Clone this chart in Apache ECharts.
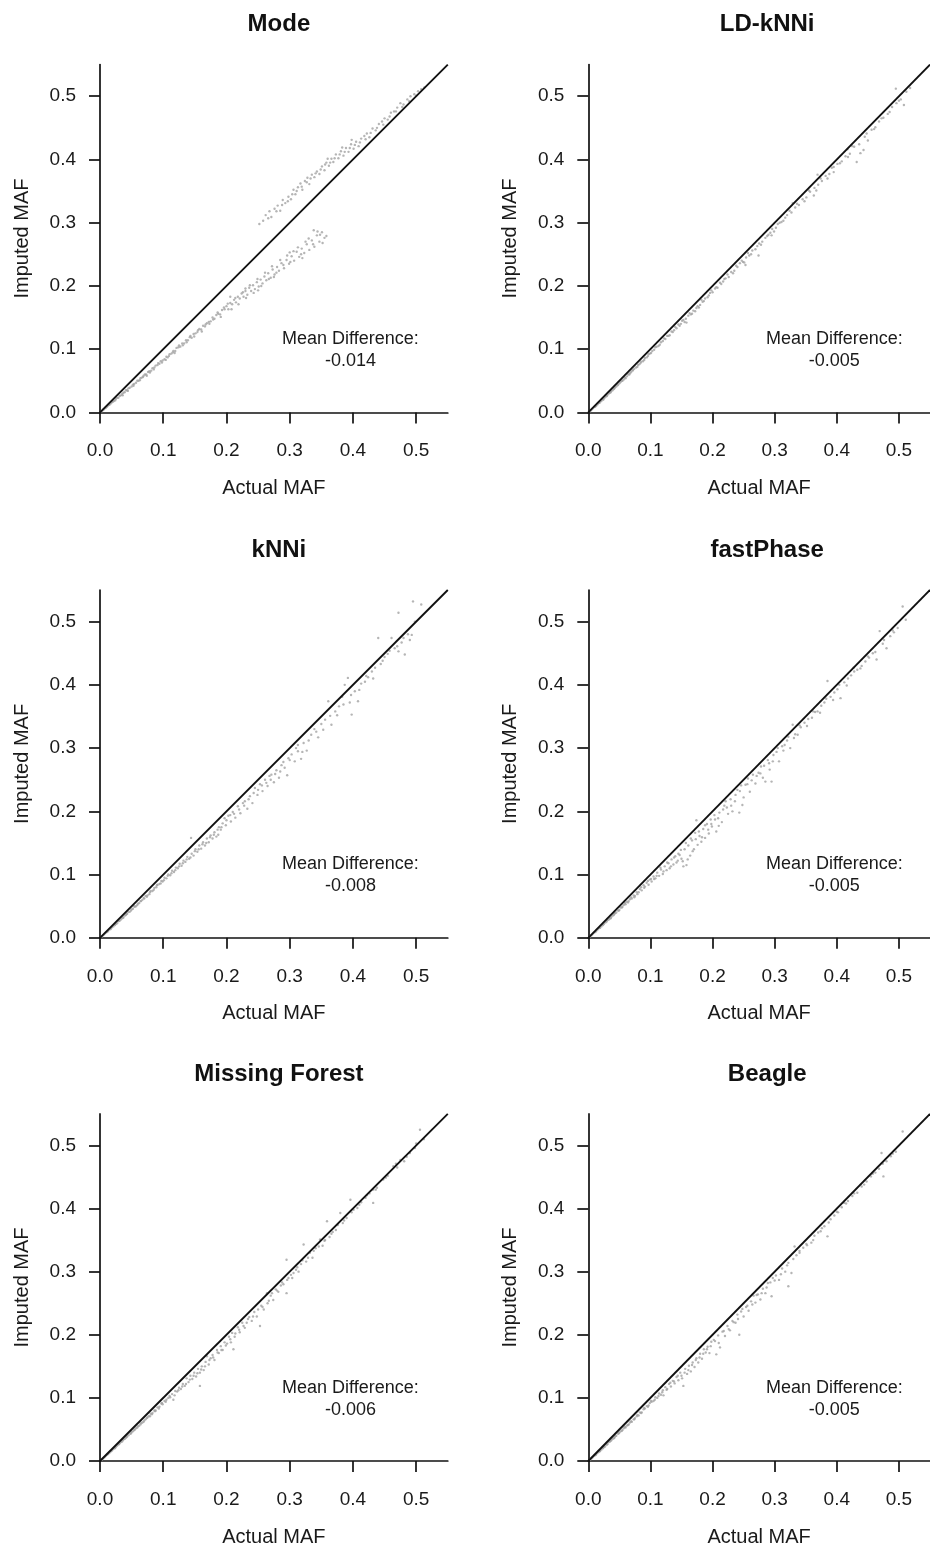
<!DOCTYPE html>
<html>
<head>
<meta charset="utf-8">
<script src="https://cdn.jsdelivr.net/npm/echarts@6/dist/echarts.min.js"></script>
<style>
html,body{margin:0;padding:0;background:#fff;}
#chart{width:930px;height:1548px;}
</style>
</head>
<body>
<div id="chart"></div>
<script>
// ---------------- DATA ----------------
const panelTitles = ['Mode', 'LD-kNNi', 'kNNi', 'fastPhase', 'Missing Forest', 'Beagle'];
const meanDifferences = ['-0.014', '-0.005', '-0.008', '-0.005', '-0.006', '-0.005'];
const tickValues = [0, 0.1, 0.2, 0.3, 0.4, 0.5];
const tickLabels = ['0.0', '0.1', '0.2', '0.3', '0.4', '0.5'];
const xAxisTitle = 'Actual MAF';
const yAxisTitle = 'Imputed MAF';
const identityLine = [[0, 0], [0.55, 0.55]];

// [actual MAF, imputed MAF]
const modePoints = [
[0.003,0.002],[0.005,0.004],[0.006,0.005],[0.008,0.007],[0.009,0.007],[0.011,0.009],[0.012,0.010],[0.014,0.012],[0.015,0.012],[0.017,0.014],
[0.019,0.016],[0.020,0.017],[0.022,0.018],[0.024,0.019],[0.025,0.021],[0.027,0.023],[0.029,0.023],[0.031,0.026],[0.033,0.027],[0.035,0.029],
[0.037,0.031],[0.039,0.032],[0.041,0.035],[0.043,0.035],[0.045,0.038],[0.047,0.039],[0.050,0.041],[0.052,0.044],[0.054,0.045],[0.057,0.047],
[0.059,0.050],[0.061,0.050],[0.064,0.054],[0.066,0.055],[0.068,0.056],[0.071,0.060],[0.073,0.060],[0.076,0.064],[0.078,0.065],[0.081,0.066],
[0.083,0.070],[0.086,0.071],[0.088,0.074],[0.091,0.075],[0.094,0.077],[0.096,0.081],[0.099,0.082],
[0.102,0.084],[0.105,0.088],[0.107,0.087],[0.110,0.092],[0.113,0.093],[0.116,0.097],[0.119,0.097],[0.121,0.102],[0.124,0.103],[0.127,0.104],
[0.130,0.109],[0.133,0.109],[0.136,0.114],[0.139,0.114],[0.142,0.119],[0.145,0.118],[0.148,0.124],[0.151,0.125],[0.154,0.127],[0.157,0.132],
[0.160,0.131],[0.163,0.137],[0.166,0.136],[0.169,0.141],[0.172,0.143],[0.175,0.144],[0.178,0.150],[0.181,0.148],[0.184,0.154],[0.187,0.156],
[0.190,0.155],[0.193,0.162],[0.197,0.163],
[0.200,0.168],[0.203,0.163],[0.206,0.173],[0.206,0.183],[0.209,0.171],[0.212,0.178],[0.215,0.174],[0.218,0.183],[0.221,0.180],[0.224,0.188],
[0.227,0.183],[0.230,0.192],[0.233,0.186],[0.236,0.197],[0.239,0.192],[0.242,0.201],[0.245,0.195],[0.248,0.206],[0.251,0.199],[0.254,0.210],
[0.257,0.204],[0.260,0.215],[0.263,0.209],[0.266,0.220],[0.270,0.213],[0.273,0.226],[0.276,0.218],[0.280,0.230],[0.283,0.224],[0.287,0.236],
[0.291,0.228],[0.295,0.241],[0.299,0.235],[0.303,0.247],[0.307,0.240],[0.311,0.254],[0.315,0.246],[0.319,0.259],[0.323,0.252],[0.327,0.266],
[0.331,0.257],[0.335,0.272],[0.338,0.288],[0.339,0.262],[0.343,0.280],[0.347,0.270],[0.348,0.281],[0.351,0.285],[0.355,0.276],[0.358,0.279],
[0.036,0.027],[0.044,0.034],[0.053,0.042],[0.063,0.051],[0.069,0.058],[0.074,0.058],[0.079,0.063],[0.085,0.068],[0.092,0.078],[0.098,0.079],
[0.104,0.083],[0.109,0.089],[0.115,0.095],[0.118,0.094],[0.125,0.106],[0.131,0.106],[0.137,0.111],[0.143,0.121],[0.149,0.120],[0.155,0.130],
[0.161,0.128],[0.167,0.139],[0.173,0.140],[0.179,0.147],[0.186,0.158],[0.191,0.151],[0.196,0.166],[0.202,0.172],[0.208,0.163],[0.214,0.181],
[0.219,0.171],[0.226,0.190],[0.231,0.181],[0.237,0.201],[0.243,0.189],[0.249,0.211],[0.255,0.200],[0.261,0.221],[0.267,0.211],[0.272,0.231],
[0.279,0.221],[0.285,0.241],[0.290,0.233],[0.296,0.248],[0.301,0.238],[0.306,0.255],[0.313,0.261],[0.318,0.250],[0.325,0.270],[0.330,0.275],
[0.337,0.266],[0.344,0.286],[0.352,0.268],[0.230,0.196],[0.250,0.193],[0.275,0.214],[0.300,0.253],[0.320,0.244],
[0.252,0.298],[0.262,0.312],[0.268,0.318],[0.271,0.309],[0.276,0.322],[0.281,0.327],[0.285,0.319],[0.289,0.336],[0.293,0.331],[0.298,0.341],
[0.302,0.337],[0.306,0.352],[0.309,0.345],[0.313,0.356],[0.317,0.362],[0.320,0.352],[0.324,0.366],[0.328,0.371],[0.331,0.361],[0.335,0.376],
[0.339,0.372],[0.343,0.381],[0.347,0.377],[0.351,0.389],[0.355,0.383],[0.358,0.395],[0.362,0.390],[0.366,0.401],[0.369,0.396],[0.373,0.408],
[0.377,0.402],[0.381,0.413],[0.385,0.406],[0.389,0.418],[0.393,0.412],[0.397,0.424],[0.401,0.417],[0.405,0.428],[0.409,0.421],[0.413,0.433],
[0.418,0.437],[0.422,0.441],[0.426,0.435],[0.431,0.449],[0.436,0.446],[0.441,0.456],[0.446,0.460],[0.450,0.465],[0.455,0.463],[0.460,0.474],
[0.465,0.476],[0.470,0.482],[0.475,0.489],[0.480,0.487],[0.486,0.495],[0.491,0.500],[0.497,0.503],[0.503,0.508],[0.508,0.511],[0.513,0.514],
[0.258,0.303],[0.266,0.307],[0.279,0.318],[0.288,0.328],[0.297,0.334],[0.304,0.345],[0.311,0.350],[0.319,0.357],[0.327,0.364],[0.333,0.370],
[0.341,0.378],[0.349,0.384],[0.356,0.392],[0.364,0.395],[0.371,0.402],[0.379,0.408],[0.387,0.412],[0.395,0.418],[0.403,0.423],[0.411,0.427],
[0.420,0.432],[0.428,0.442],[0.438,0.450],[0.448,0.455],[0.458,0.468],[0.468,0.476],[0.478,0.483],[0.489,0.492],[0.500,0.501],[0.383,0.419],
[0.398,0.431],[0.360,0.401]
];

const ldknniPoints = [
[0.003,0.002],[0.005,0.004],[0.007,0.006],[0.009,0.008],[0.011,0.009],[0.013,0.011],[0.015,0.013],[0.017,0.015],[0.019,0.017],[0.021,0.018],
[0.023,0.021],[0.025,0.022],[0.027,0.024],[0.029,0.026],[0.031,0.028],[0.033,0.030],[0.035,0.031],[0.037,0.034],[0.039,0.035],[0.041,0.037],
[0.043,0.040],[0.045,0.041],[0.047,0.043],[0.050,0.046],[0.052,0.048],[0.054,0.050],[0.057,0.052],[0.059,0.055],[0.062,0.057],[0.064,0.060],
[0.067,0.062],[0.069,0.064],[0.072,0.067],[0.074,0.069],[0.077,0.071],[0.080,0.075],[0.082,0.076],[0.085,0.080],[0.088,0.081],[0.091,0.086],
[0.094,0.087],[0.097,0.092],[0.099,0.093],
[0.103,0.097],[0.106,0.099],[0.110,0.104],[0.113,0.105],[0.117,0.111],[0.120,0.113],[0.124,0.116],[0.127,0.121],[0.131,0.122],[0.134,0.128],
[0.138,0.130],[0.142,0.133],[0.145,0.139],[0.149,0.140],[0.153,0.146],[0.157,0.148],[0.158,0.142],[0.161,0.153],[0.165,0.155],[0.169,0.161],
[0.172,0.160],[0.176,0.168],[0.180,0.170],[0.184,0.175],[0.188,0.180],[0.192,0.182],[0.196,0.189],[0.200,0.190],
[0.204,0.196],[0.208,0.197],[0.212,0.205],[0.217,0.207],[0.221,0.212],[0.226,0.214],[0.230,0.222],[0.235,0.224],[0.240,0.230],[0.244,0.236],
[0.249,0.238],[0.253,0.233],[0.254,0.245],[0.259,0.248],[0.264,0.256],[0.269,0.258],[0.274,0.248],[0.275,0.267],[0.280,0.270],[0.285,0.276],
[0.290,0.281],[0.295,0.280],[0.296,0.290],[0.302,0.292],[0.308,0.300],[0.314,0.303],[0.320,0.312],[0.327,0.316],[0.329,0.331],[0.333,0.324],
[0.339,0.328],[0.345,0.337],[0.351,0.340],[0.357,0.349],[0.363,0.343],[0.364,0.355],[0.369,0.376],[0.370,0.360],[0.376,0.366],[0.382,0.374],
[0.388,0.377],[0.395,0.380],[0.395,0.388],[0.401,0.393],[0.408,0.397],[0.414,0.405],[0.417,0.416],[0.421,0.409],[0.428,0.420],[0.432,0.396],
[0.438,0.410],[0.443,0.415],[0.445,0.436],[0.450,0.430],[0.456,0.447],[0.462,0.451],[0.468,0.460],[0.475,0.466],[0.482,0.472],[0.489,0.483],
[0.495,0.512],[0.496,0.489],[0.503,0.495],[0.508,0.486],[0.512,0.507],[0.518,0.513],
[0.012,0.010],[0.018,0.015],[0.024,0.020],[0.030,0.026],[0.036,0.032],[0.042,0.038],[0.048,0.044],[0.055,0.050],[0.060,0.054],[0.066,0.060],
[0.071,0.066],[0.079,0.072],[0.084,0.078],[0.090,0.083],[0.096,0.089],[0.101,0.094],[0.108,0.103],[0.115,0.107],[0.122,0.117],[0.129,0.121],
[0.136,0.127],[0.140,0.135],[0.147,0.137],[0.151,0.145],[0.155,0.143],[0.163,0.157],[0.167,0.156],[0.174,0.165],[0.178,0.166],[0.182,0.178],
[0.186,0.176],[0.194,0.185],[0.198,0.193],[0.206,0.198],[0.214,0.203],[0.219,0.211],[0.224,0.218],[0.233,0.220],[0.238,0.232],[0.247,0.240],
[0.251,0.237],[0.257,0.252],[0.262,0.250],[0.272,0.263],[0.278,0.265],[0.288,0.279],[0.293,0.284],[0.299,0.286],[0.305,0.298],[0.311,0.301],
[0.317,0.308],[0.324,0.319],[0.336,0.330],[0.348,0.334],[0.355,0.351],[0.367,0.351],[0.374,0.370],[0.385,0.370],[0.392,0.387],[0.405,0.394],
[0.418,0.404],[0.425,0.421],[0.436,0.424],[0.448,0.441],[0.460,0.448],[0.472,0.465],[0.485,0.475],[0.500,0.493]
];

const knniPoints = [
[0.003,0.002],[0.005,0.004],[0.007,0.006],[0.009,0.008],[0.011,0.009],[0.013,0.011],[0.015,0.013],[0.017,0.014],[0.019,0.017],[0.021,0.018],
[0.023,0.020],[0.025,0.022],[0.027,0.023],[0.029,0.026],[0.031,0.027],[0.033,0.029],[0.035,0.031],[0.037,0.032],[0.039,0.035],[0.041,0.036],
[0.043,0.038],[0.045,0.041],[0.047,0.041],[0.050,0.045],[0.052,0.046],[0.055,0.049],[0.057,0.050],[0.060,0.054],[0.062,0.055],[0.065,0.058],
[0.067,0.060],[0.070,0.062],[0.072,0.066],[0.075,0.067],[0.078,0.069],[0.080,0.074],[0.083,0.074],[0.086,0.079],[0.089,0.080],[0.091,0.084],
[0.094,0.085],[0.097,0.090],[0.099,0.089],
[0.102,0.095],[0.105,0.094],[0.108,0.100],[0.111,0.099],[0.114,0.106],[0.117,0.104],[0.120,0.111],[0.123,0.110],[0.126,0.117],[0.129,0.114],
[0.132,0.122],[0.135,0.120],[0.138,0.128],[0.141,0.125],[0.144,0.158],[0.145,0.133],[0.148,0.130],[0.151,0.140],[0.154,0.136],[0.157,0.146],
[0.160,0.141],[0.163,0.151],[0.166,0.146],[0.169,0.157],[0.172,0.151],[0.175,0.162],[0.178,0.157],[0.181,0.167],[0.184,0.160],[0.187,0.163],
[0.188,0.175],[0.191,0.171],[0.194,0.181],[0.197,0.189],[0.199,0.178],
[0.203,0.193],[0.207,0.184],[0.210,0.199],[0.214,0.190],[0.218,0.208],[0.222,0.197],[0.226,0.213],[0.229,0.216],[0.233,0.204],[0.237,0.224],
[0.241,0.213],[0.245,0.237],[0.249,0.226],[0.253,0.243],[0.257,0.232],[0.261,0.250],[0.265,0.240],[0.268,0.256],[0.271,0.258],[0.275,0.246],
[0.279,0.265],[0.283,0.253],[0.287,0.273],[0.292,0.269],[0.296,0.257],[0.298,0.284],
[0.303,0.290],[0.308,0.279],[0.313,0.295],[0.313,0.305],[0.318,0.283],[0.322,0.308],[0.327,0.296],[0.334,0.321],[0.339,0.330],[0.345,0.317],
[0.350,0.338],[0.356,0.345],[0.361,0.374],[0.366,0.337],[0.372,0.358],[0.378,0.366],[0.383,0.381],[0.387,0.400],[0.392,0.411],[0.395,0.372],
[0.398,0.353],[0.403,0.390],[0.408,0.374],[0.413,0.402],[0.419,0.405],[0.424,0.412],[0.430,0.421],[0.435,0.427],[0.440,0.474],[0.444,0.433],
[0.450,0.444],[0.455,0.449],[0.461,0.474],[0.466,0.458],[0.472,0.453],[0.472,0.514],[0.477,0.467],[0.482,0.448],[0.487,0.480],[0.493,0.479],
[0.498,0.500],[0.495,0.532],[0.508,0.527],
[0.012,0.010],[0.018,0.016],[0.024,0.021],[0.030,0.027],[0.036,0.032],[0.042,0.038],[0.049,0.043],[0.054,0.050],[0.059,0.052],[0.064,0.058],
[0.069,0.063],[0.074,0.065],[0.079,0.072],[0.085,0.076],[0.090,0.083],[0.096,0.086],[0.101,0.091],[0.107,0.098],[0.113,0.102],[0.119,0.107],
[0.125,0.113],[0.131,0.118],[0.137,0.124],[0.143,0.127],[0.150,0.137],[0.156,0.140],[0.162,0.148],[0.168,0.150],[0.174,0.159],[0.180,0.163],
[0.186,0.171],[0.192,0.175],[0.200,0.186],[0.206,0.194],[0.212,0.196],[0.220,0.203],[0.228,0.209],[0.235,0.219],[0.243,0.229],[0.250,0.234],
[0.256,0.241],[0.263,0.245],[0.270,0.250],[0.277,0.259],[0.285,0.263],[0.290,0.278],[0.300,0.281],[0.310,0.300],[0.320,0.294],[0.330,0.312],
[0.342,0.326],[0.353,0.329],[0.364,0.351],[0.375,0.352],[0.385,0.369],[0.397,0.384],[0.410,0.392],[0.421,0.414],[0.432,0.410],[0.447,0.438],
[0.458,0.454],[0.470,0.461],[0.480,0.474],[0.490,0.471]
];

const fastphasePoints = [
[0.003,0.002],[0.005,0.004],[0.007,0.006],[0.009,0.008],[0.011,0.009],[0.013,0.011],[0.015,0.013],[0.017,0.015],[0.019,0.016],[0.021,0.018],
[0.023,0.020],[0.025,0.022],[0.027,0.024],[0.029,0.025],[0.031,0.028],[0.033,0.029],[0.035,0.031],[0.037,0.033],[0.039,0.035],[0.041,0.036],
[0.043,0.039],[0.045,0.040],[0.048,0.043],[0.050,0.044],[0.052,0.048],[0.055,0.049],[0.057,0.052],[0.060,0.053],[0.062,0.057],[0.065,0.058],
[0.067,0.061],[0.070,0.062],[0.073,0.067],[0.075,0.066],[0.078,0.072],[0.081,0.072],[0.083,0.077],[0.086,0.075],[0.089,0.083],[0.091,0.081],
[0.094,0.087],[0.097,0.084],[0.099,0.092],
[0.102,0.089],[0.105,0.097],[0.108,0.094],[0.111,0.103],[0.114,0.098],[0.117,0.108],[0.120,0.101],[0.123,0.113],[0.126,0.107],[0.129,0.118],
[0.131,0.110],[0.134,0.124],[0.137,0.116],[0.140,0.129],[0.142,0.119],[0.145,0.133],[0.147,0.131],[0.150,0.125],[0.153,0.113],[0.155,0.140],
[0.158,0.115],[0.161,0.146],[0.164,0.130],[0.167,0.154],[0.170,0.140],[0.172,0.166],[0.174,0.186],[0.176,0.147],[0.179,0.161],[0.182,0.152],
[0.185,0.172],[0.188,0.158],[0.191,0.180],[0.194,0.165],[0.197,0.187],[0.199,0.176],
[0.203,0.194],[0.206,0.168],[0.209,0.189],[0.211,0.198],[0.215,0.183],[0.219,0.209],[0.221,0.216],[0.225,0.196],[0.229,0.219],[0.232,0.200],
[0.237,0.226],[0.240,0.234],[0.243,0.198],[0.246,0.241],[0.248,0.210],[0.253,0.242],[0.257,0.252],[0.260,0.231],[0.265,0.258],[0.269,0.244],
[0.274,0.261],[0.278,0.271],[0.281,0.253],[0.285,0.247],[0.289,0.281],[0.292,0.266],[0.295,0.247],[0.298,0.289],
[0.303,0.294],[0.307,0.279],[0.312,0.303],[0.316,0.305],[0.320,0.312],[0.325,0.300],[0.329,0.337],[0.333,0.322],[0.337,0.321],[0.342,0.333],
[0.348,0.340],[0.354,0.346],[0.360,0.348],[0.365,0.357],[0.369,0.358],[0.375,0.367],[0.380,0.372],[0.385,0.406],[0.390,0.381],[0.396,0.388],
[0.401,0.393],[0.406,0.379],[0.412,0.404],[0.418,0.410],[0.423,0.415],[0.427,0.427],[0.433,0.424],[0.440,0.430],[0.446,0.437],[0.452,0.443],
[0.458,0.450],[0.464,0.440],[0.469,0.485],[0.474,0.465],[0.480,0.458],[0.486,0.477],[0.492,0.483],[0.498,0.490],[0.506,0.524],[0.511,0.503],
[0.012,0.010],[0.018,0.016],[0.024,0.021],[0.030,0.027],[0.036,0.031],[0.042,0.038],[0.049,0.043],[0.054,0.048],[0.059,0.055],[0.064,0.056],
[0.069,0.064],[0.074,0.064],[0.079,0.069],[0.085,0.080],[0.090,0.079],[0.096,0.090],[0.101,0.093],[0.106,0.093],[0.110,0.098],[0.116,0.111],
[0.121,0.105],[0.127,0.119],[0.133,0.113],[0.138,0.127],[0.144,0.122],[0.149,0.139],[0.152,0.121],[0.157,0.150],[0.160,0.124],[0.165,0.157],
[0.168,0.137],[0.173,0.156],[0.178,0.168],[0.183,0.159],[0.188,0.178],[0.193,0.171],[0.198,0.180],[0.204,0.187],[0.210,0.177],[0.217,0.203],
[0.223,0.206],[0.230,0.209],[0.236,0.216],[0.244,0.232],[0.250,0.222],[0.256,0.243],[0.263,0.249],[0.271,0.256],[0.277,0.260],[0.283,0.272],
[0.291,0.276],[0.297,0.279],[0.305,0.300],[0.314,0.296],[0.322,0.318],[0.331,0.316],[0.340,0.336],[0.352,0.335],[0.362,0.358],[0.373,0.356],
[0.383,0.378],[0.394,0.376],[0.404,0.400],[0.416,0.399],[0.428,0.421],[0.438,0.426],[0.450,0.445],[0.462,0.452],[0.476,0.471],[0.490,0.486]
];

const missingForestPoints = [
[0.003,0.002],[0.005,0.004],[0.007,0.006],[0.009,0.008],[0.011,0.010],[0.013,0.011],[0.015,0.013],[0.017,0.015],[0.019,0.017],[0.021,0.019],
[0.023,0.020],[0.025,0.022],[0.027,0.024],[0.029,0.026],[0.031,0.028],[0.033,0.030],[0.035,0.031],[0.037,0.034],[0.039,0.035],[0.041,0.037],
[0.043,0.039],[0.045,0.041],[0.048,0.043],[0.050,0.046],[0.052,0.047],[0.055,0.050],[0.057,0.052],[0.060,0.055],[0.062,0.056],[0.065,0.060],
[0.067,0.061],[0.070,0.064],[0.072,0.066],[0.075,0.069],[0.077,0.071],[0.079,0.071],[0.080,0.075],[0.083,0.076],[0.086,0.080],[0.088,0.080],
[0.091,0.085],[0.094,0.086],[0.097,0.091],[0.099,0.090],
[0.102,0.095],[0.105,0.097],[0.108,0.100],[0.111,0.101],[0.114,0.106],[0.116,0.097],[0.119,0.111],[0.122,0.110],[0.125,0.116],[0.128,0.114],
[0.131,0.122],[0.134,0.119],[0.137,0.131],[0.140,0.125],[0.143,0.135],[0.146,0.130],[0.149,0.140],[0.152,0.134],[0.155,0.146],[0.158,0.119],
[0.158,0.140],[0.161,0.150],[0.164,0.144],[0.167,0.157],[0.169,0.166],[0.172,0.153],[0.175,0.163],[0.178,0.168],[0.181,0.160],[0.185,0.176],
[0.188,0.171],[0.191,0.182],[0.194,0.176],[0.197,0.188],
[0.201,0.186],[0.204,0.197],[0.206,0.193],[0.209,0.203],[0.211,0.177],[0.214,0.202],[0.218,0.212],[0.221,0.204],[0.225,0.219],[0.229,0.211],
[0.232,0.219],[0.236,0.228],[0.240,0.222],[0.244,0.236],[0.248,0.229],[0.253,0.214],[0.255,0.246],[0.259,0.240],[0.264,0.266],[0.267,0.254],
[0.270,0.262],[0.274,0.255],[0.278,0.272],[0.282,0.268],[0.286,0.278],[0.290,0.280],[0.295,0.266],[0.295,0.319],[0.298,0.290],
[0.302,0.295],[0.306,0.298],[0.310,0.303],[0.314,0.300],[0.318,0.312],[0.322,0.343],[0.326,0.316],[0.332,0.330],[0.336,0.322],[0.341,0.337],
[0.348,0.351],[0.352,0.341],[0.356,0.350],[0.359,0.380],[0.363,0.355],[0.368,0.363],[0.373,0.366],[0.380,0.393],[0.384,0.377],[0.390,0.385],
[0.396,0.414],[0.401,0.398],[0.407,0.401],[0.413,0.410],[0.420,0.417],[0.426,0.424],[0.432,0.409],[0.432,0.430],[0.438,0.433],[0.448,0.446],
[0.455,0.452],[0.464,0.467],[0.470,0.465],[0.475,0.477],[0.481,0.475],[0.490,0.488],[0.498,0.496],[0.506,0.525],[0.512,0.510],
[0.012,0.011],[0.018,0.016],[0.024,0.021],[0.030,0.027],[0.036,0.033],[0.042,0.038],[0.049,0.044],[0.054,0.049],[0.059,0.053],[0.064,0.058],
[0.069,0.062],[0.074,0.068],[0.082,0.074],[0.087,0.079],[0.093,0.083],[0.098,0.092],[0.104,0.094],[0.110,0.103],[0.118,0.104],[0.124,0.112],
[0.130,0.118],[0.136,0.122],[0.142,0.129],[0.148,0.135],[0.154,0.139],[0.160,0.145],[0.166,0.150],[0.173,0.160],[0.179,0.164],[0.186,0.172],
[0.192,0.176],[0.199,0.183],[0.207,0.188],[0.213,0.197],[0.220,0.208],[0.227,0.214],[0.234,0.225],[0.242,0.229],[0.250,0.240],[0.257,0.244],
[0.265,0.250],[0.272,0.266],[0.280,0.270],[0.288,0.283],[0.296,0.287],[0.304,0.290],[0.312,0.307],[0.320,0.318],[0.329,0.322],[0.338,0.333],
[0.346,0.340],[0.355,0.349],[0.366,0.360],[0.376,0.374],[0.386,0.381],[0.398,0.394],[0.410,0.406],[0.422,0.421],[0.436,0.430],[0.452,0.449],
[0.468,0.471],[0.485,0.482],[0.500,0.503]
];

const beaglePoints = [
[0.003,0.002],[0.005,0.004],[0.007,0.006],[0.009,0.008],[0.011,0.009],[0.013,0.011],[0.015,0.013],[0.017,0.015],[0.019,0.016],[0.021,0.018],
[0.023,0.020],[0.025,0.022],[0.027,0.023],[0.029,0.026],[0.031,0.027],[0.033,0.030],[0.035,0.031],[0.037,0.033],[0.039,0.035],[0.041,0.036],
[0.043,0.039],[0.045,0.040],[0.048,0.043],[0.050,0.045],[0.052,0.047],[0.055,0.049],[0.057,0.052],[0.060,0.053],[0.062,0.056],[0.065,0.058],
[0.067,0.061],[0.070,0.062],[0.073,0.066],[0.075,0.068],[0.078,0.071],[0.081,0.072],[0.083,0.077],[0.086,0.077],[0.089,0.082],[0.091,0.083],
[0.094,0.087],[0.097,0.088],[0.099,0.092],
[0.102,0.094],[0.105,0.095],[0.108,0.101],[0.111,0.100],[0.114,0.107],[0.117,0.105],[0.120,0.112],[0.121,0.104],[0.124,0.117],[0.127,0.114],
[0.130,0.122],[0.133,0.118],[0.136,0.127],[0.139,0.123],[0.142,0.133],[0.145,0.128],[0.148,0.140],[0.151,0.131],[0.153,0.119],[0.156,0.146],
[0.159,0.138],[0.162,0.151],[0.165,0.142],[0.168,0.156],[0.171,0.149],[0.174,0.163],[0.177,0.156],[0.180,0.170],[0.183,0.162],[0.186,0.177],
[0.189,0.172],[0.192,0.181],[0.195,0.171],[0.198,0.189],
[0.202,0.192],[0.206,0.169],[0.209,0.199],[0.212,0.180],[0.216,0.205],[0.220,0.198],[0.224,0.214],[0.228,0.207],[0.232,0.222],[0.237,0.219],
[0.240,0.232],[0.243,0.200],[0.246,0.237],[0.250,0.229],[0.254,0.244],[0.258,0.238],[0.262,0.253],[0.266,0.262],[0.269,0.251],[0.273,0.264],
[0.277,0.256],[0.281,0.273],[0.285,0.266],[0.289,0.282],[0.295,0.261],[0.297,0.290],
[0.302,0.294],[0.307,0.287],[0.312,0.305],[0.317,0.300],[0.322,0.277],[0.322,0.314],[0.327,0.298],[0.332,0.340],[0.335,0.326],[0.340,0.333],
[0.346,0.338],[0.351,0.344],[0.359,0.346],[0.364,0.357],[0.370,0.362],[0.376,0.369],[0.380,0.372],[0.385,0.356],[0.390,0.383],[0.396,0.389],
[0.402,0.394],[0.408,0.402],[0.412,0.409],[0.418,0.412],[0.425,0.420],[0.433,0.425],[0.440,0.435],[0.448,0.443],[0.455,0.451],[0.462,0.457],
[0.468,0.463],[0.472,0.488],[0.475,0.451],[0.480,0.475],[0.487,0.483],[0.495,0.490],[0.506,0.522],
[0.012,0.010],[0.018,0.015],[0.024,0.021],[0.030,0.026],[0.036,0.032],[0.042,0.037],[0.049,0.044],[0.054,0.048],[0.059,0.054],[0.064,0.057],
[0.069,0.063],[0.074,0.066],[0.079,0.073],[0.085,0.076],[0.090,0.084],[0.096,0.086],[0.101,0.095],[0.107,0.097],[0.113,0.103],[0.119,0.109],
[0.126,0.113],[0.132,0.124],[0.138,0.126],[0.144,0.135],[0.150,0.135],[0.155,0.140],[0.161,0.144],[0.167,0.152],[0.173,0.160],[0.179,0.164],
[0.185,0.170],[0.191,0.177],[0.197,0.182],[0.204,0.190],[0.210,0.187],[0.218,0.206],[0.226,0.209],[0.234,0.220],[0.241,0.225],[0.248,0.241],
[0.256,0.246],[0.264,0.248],[0.271,0.263],[0.279,0.266],[0.287,0.275],[0.293,0.283],[0.300,0.286],[0.310,0.296],[0.320,0.310],[0.330,0.320],
[0.340,0.330],[0.352,0.342],[0.362,0.350],[0.374,0.364],[0.387,0.378],[0.400,0.395],[0.415,0.408],[0.428,0.424],[0.444,0.438],[0.458,0.455],
[0.474,0.471],[0.490,0.487]
];

const panelPoints = [modePoints, ldknniPoints, knniPoints, fastphasePoints, missingForestPoints, beaglePoints];

// ---------------- LAYOUT ----------------
const FONT = "'Liberation Sans', Arial, Helvetica, sans-serif";
const TEXT = '#1a1a1a';
const colLeft = [100, 588.3];
const rowTop = [64.6, 590.0, 1113.9];
const plotSize = 347.8;
const axisMax = 0.55;
const annotationAnchor = [0.396, 0.0985];

const chart = echarts.init(document.getElementById('chart'), null, {renderer: 'canvas'});

const grids = [], xAxes = [], yAxes = [], series = [], titles = [];

function tickFmt(v) {
  let best = 0;
  for (let k = 0; k < tickValues.length; k++) {
    if (Math.abs(tickValues[k] - v) < Math.abs(tickValues[best] - v)) best = k;
  }
  return tickLabels[best];
}

panelTitles.forEach((name, i) => {
  const col = i % 2, row = Math.floor(i / 2);
  const left = colLeft[col], top = rowTop[row];
  grids.push({left: left, top: top, width: plotSize, height: plotSize, containLabel: false});
  titles.push({
    text: name,
    left: left + plotSize / 2,
    top: top - 57,
    textAlign: 'center',
    textStyle: {fontFamily: FONT, fontWeight: 'bold', fontSize: 24, color: '#111'}
  });
  xAxes.push({
    gridIndex: i, type: 'value', min: 0, max: axisMax,
    name: xAxisTitle, nameLocation: 'middle', nameGap: 66,
    nameTextStyle: {fontFamily: FONT, fontSize: 20, color: TEXT},
    axisLine: {show: true, onZero: false, lineStyle: {color: '#111', width: 1.7}},
    axisTick: {show: true, inside: false, length: 11, customValues: tickValues, lineStyle: {color: '#111', width: 1.7}},
    axisLabel: {show: true, customValues: tickValues, formatter: tickFmt, margin: 29,
      fontFamily: FONT, fontSize: 19, color: TEXT},
    splitLine: {show: false}
  });
  yAxes.push({
    gridIndex: i, type: 'value', min: 0, max: axisMax,
    name: yAxisTitle, nameLocation: 'middle', nameGap: 68,
    nameTextStyle: {fontFamily: FONT, fontSize: 20, color: TEXT},
    axisLine: {show: true, onZero: false, lineStyle: {color: '#111', width: 1.7}},
    axisTick: {show: true, inside: false, length: 11, customValues: tickValues, lineStyle: {color: '#111', width: 1.7}},
    axisLabel: {show: true, customValues: tickValues, formatter: tickFmt, margin: 24,
      fontFamily: FONT, fontSize: 19, color: TEXT},
    splitLine: {show: false}
  });
  series.push({
    type: 'scatter', xAxisIndex: i, yAxisIndex: i,
    data: panelPoints[i], symbol: 'circle', symbolSize: 2.4,
    itemStyle: {color: '#a2a2a2'}, silent: true, z: 2
  });
  series.push({
    type: 'line', xAxisIndex: i, yAxisIndex: i,
    data: identityLine, symbol: 'none',
    lineStyle: {color: '#111', width: 1.9}, silent: true, z: 3
  });
});

chart.setOption({
  backgroundColor: '#fff',
  animation: false,
  title: titles,
  grid: grids,
  xAxis: xAxes,
  yAxis: yAxes,
  series: series
});

// "Mean Difference" annotations, anchored in data coordinates of each panel
const annotations = meanDifferences.map((md, i) => {
  const p = chart.convertToPixel({gridIndex: i}, annotationAnchor);
  return {
    type: 'text', x: p[0], y: p[1], silent: true, z: 10,
    style: {
      text: 'Mean Difference:\n' + md,
      align: 'center', verticalAlign: 'middle',
      font: "18px 'Liberation Sans', Arial, sans-serif",
      lineHeight: 22, fill: TEXT
    }
  };
});
chart.setOption({graphic: annotations});
</script>
</body>
</html>
